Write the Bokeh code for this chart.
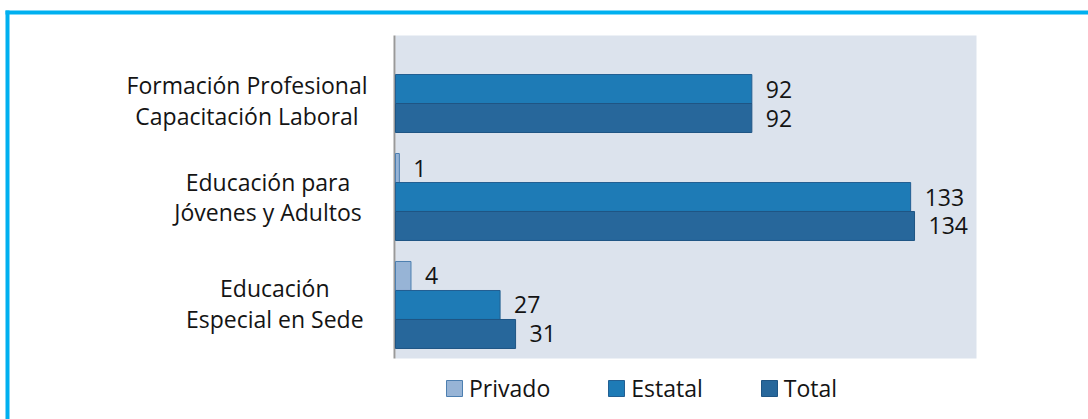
from bokeh.plotting import figure
from bokeh.models import ColumnDataSource, Range1d, Legend, LegendItem
from bokeh.core.properties import value
from bokeh.embed import file_html
from bokeh.resources import INLINE

# ---------------- data ----------------
categories = [
    "Formación Profesional\nCapacitación Laboral",
    "Educación para\nJóvenes y Adultos",
    "Educación\nEspecial en Sede",
]
series_names = ["Privado", "Estatal", "Total"]
privado = [0, 1, 4]
estatal = [92, 133, 27]
total = [92, 134, 31]

# ---------------- layout / style ----------------
W, H = 1088, 419
PLOT_L, PLOT_R = 395, 976      # px of plot area
PLOT_T, PLOT_B = 35, 358
X_MAX = 150
END_PAD, GROUP_GAP = 0.345, 0.724
FONT = "Open Sans"
FSIZE = "23px"
TXT = "#141414"
fills = ["#97b4d6", "#1e7bb6", "#27679b"]
lines = ["#4d7fb0", "#235f92", "#1f5584"]
label_cx = [246.5, 267.5, 274.3]   # px centre of category label blocks
label_dy = [0.40, 0.0, -0.05]      # slot offset of label block
LINE_GAP = 1.05                    # slots between label lines

sx = (PLOT_R - PLOT_L) / X_MAX
x0 = -PLOT_L / sx
x1 = x0 + W / sx
ncat = len(categories)
n_slots = 3 * ncat + (ncat - 1) * GROUP_GAP + 2 * END_PAD
sy = (PLOT_B - PLOT_T) / n_slots
y_top = -PLOT_T / sy
y_bot = (H - PLOT_T) / sy


def px_x(cx):
    return x0 + cx / sx


def px_y(cy):
    return y_top + cy / sy


def slot(k, j):
    return END_PAD + k * (3 + GROUP_GAP) + j + 0.5


p = figure(width=W, height=H, x_range=Range1d(x0, x1), y_range=Range1d(y_bot, y_top),
           output_backend="svg", toolbar_location=None, min_border=0,
           x_axis_location=None, y_axis_location=None, outline_line_color=None,
           background_fill_color="white", border_fill_color="white")
p.grid.visible = False

# cyan frame (top and left visible)
p.quad(left=[px_x(5)], right=[px_x(W)], top=[px_y(10)], bottom=[px_y(14)],
       fill_color="#00b0f0", line_color=None)
p.quad(left=[px_x(5)], right=[px_x(9)], top=[px_y(10)], bottom=[px_y(H)],
       fill_color="#00b0f0", line_color=None)

# plot area background
p.quad(left=[0], right=[X_MAX], top=[0], bottom=[n_slots], fill_color="#dce3ed", line_color=None)
# vertical axis line
p.segment(x0=[-1 / sx], x1=[-1 / sx], y0=[0], y1=[n_slots], line_color="#999999", line_width=2)

all_series = [privado, estatal, total]
items = []
for j, (name, vals) in enumerate(zip(series_names, all_series)):
    ys = [slot(k, j) for k, v in enumerate(vals) if v > 0]
    vs = [v for v in vals if v > 0]
    src = ColumnDataSource(dict(y=ys, v=vs, t=[str(v) for v in vs]))
    r = p.hbar(y="y", left=0, right="v", height=1.0, source=src,
               fill_color=fills[j], line_color=lines[j], line_width=1)
    p.text(x="v", y="y", text="t", source=src, x_offset=14, text_align="left",
           text_baseline="middle", text_font=value(FONT), text_font_size=value(FSIZE),
           text_color=TXT)
    items.append(LegendItem(label=name, renderers=[r]))

# category labels (each line centred, block right-aligned)
lx, ly, lt = [], [], []
for k, cat in enumerate(categories):
    parts = cat.split("\n")
    cy = slot(k, 1) + label_dy[k]
    n = len(parts)
    for i, part in enumerate(parts):
        lx.append(px_x(label_cx[k]))
        ly.append(cy + (i - (n - 1) / 2) * LINE_GAP)
        lt.append(part)
p.text(x=lx, y=ly, text=lt, text_align="center", text_baseline="middle",
       text_font=value(FONT), text_font_size=value(FSIZE), text_color=TXT)

legend = Legend(items=items, orientation="horizontal", location=(444, 15.5),
                glyph_width=20, glyph_height=20, label_standoff=5, spacing=56,
                padding=6, margin=0, border_line_color=None, background_fill_alpha=0,
                label_text_font=FONT, label_text_font_size=FSIZE, label_text_color=TXT,
                label_height=16)
p.add_layout(legend)

open("out.html", "w").write(file_html(p, INLINE))
